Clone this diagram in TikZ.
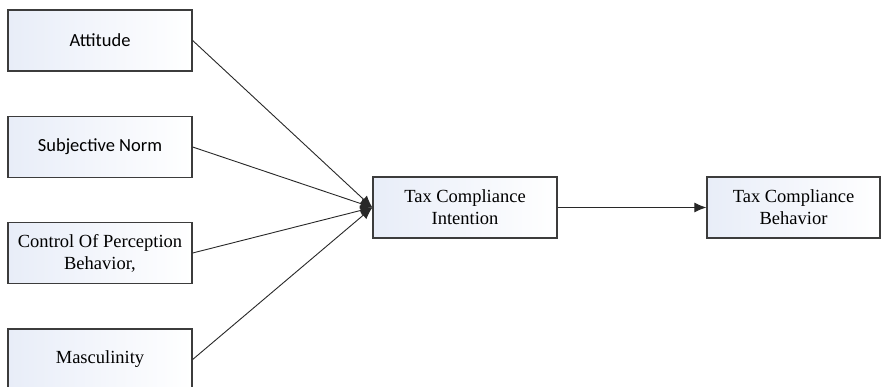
\documentclass[tikz,border=0pt]{standalone}
\usepackage{fontspec}
\setmainfont{Liberation Serif}
\setsansfont{Carlito}
\usetikzlibrary{arrows.meta}
\definecolor{boxedge}{RGB}{60,60,60}
\definecolor{boxtint}{RGB}{232,237,248}
\definecolor{wire}{RGB}{40,40,40}
\begin{document}
\begin{tikzpicture}[x=1pt,y=-1pt,
  factor/.style={draw=boxedge, line width=1.3pt, left color=boxtint, right color=white,
    minimum width=184pt, minimum height=61pt, inner sep=0pt, align=center,
    font=\rmfamily\fontsize{18.5}{22}\selectfont},
  sansfactor/.style={factor, font=\sffamily\fontsize{18.5}{22}\selectfont},
  link/.style={draw=wire, line width=0.9pt, -{Latex[length=12pt,width=10pt]}}
]
\useasboundingbox (0,0) rectangle (882,387);
\fill[white] (0,0) rectangle (882,387);

% predictors
\node[sansfactor] (att) at (100,40.5) {Attitude};
\node[sansfactor] (sn)  at (100,147) {Subjective Norm};
\node[factor]     (cpb) at (100,253) {Control Of Perception\\Behavior,};
\node[factor]     (mas) at (100,359.5) {Masculinity};

% outcomes
\node[factor] (tci) at (465,207.5) {Tax Compliance\\Intention};
\node[factor, minimum width=173pt] (tcb) at (793.5,207.5) {Tax Compliance\\Behavior};

\draw[link] (att.east) -- (tci.west);
\draw[link] (sn.east)  -- (tci.west);
\draw[link] (cpb.east) -- (tci.west);
\draw[link] (mas.east) -- (tci.west);
\draw[link] (tci.east) -- (tcb.west);
\end{tikzpicture}
\end{document}
